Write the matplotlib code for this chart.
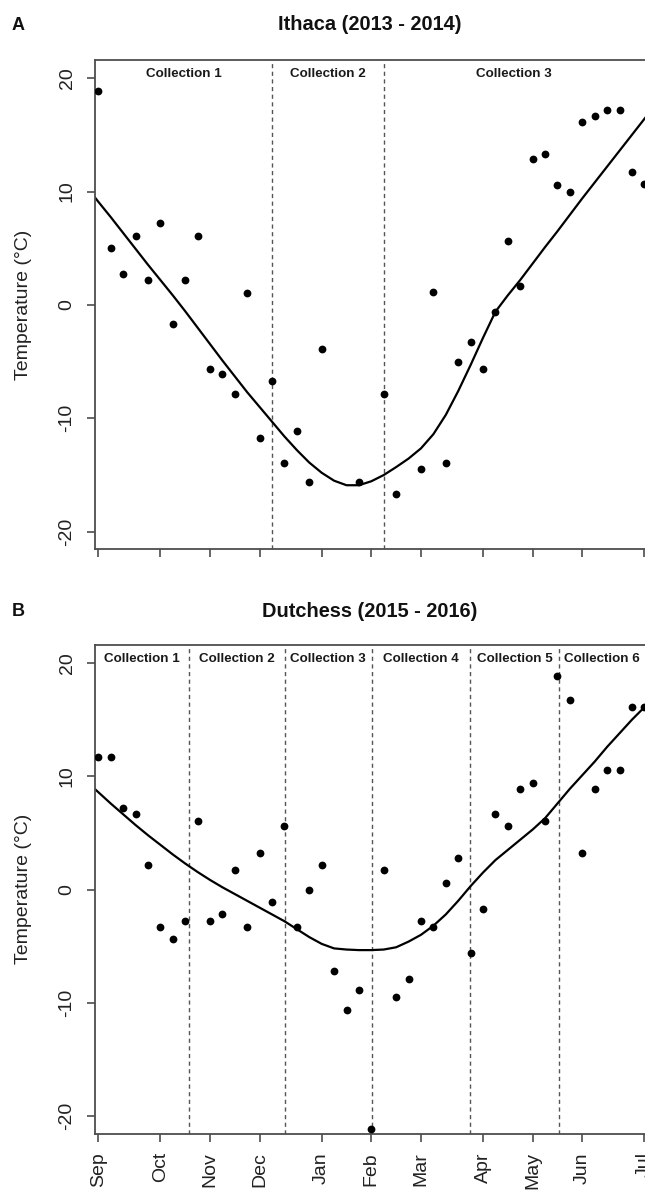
import numpy as np
import matplotlib
matplotlib.use("Agg")
import matplotlib.pyplot as plt

plt.rcParams['font.family'] = ['Liberation Sans', 'DejaVu Sans']
plt.rcParams['axes.unicode_minus'] = False

# ---------------- data ----------------
weeks = np.arange(45)
month_ticks = [0, 5, 9, 13, 18, 22, 26, 31, 35, 39, 44]
month_labels = ['Sep', 'Oct', 'Nov', 'Dec', 'Jan', 'Feb', 'Mar', 'Apr', 'May', 'Jun', 'Jul']

ithaca_temp = [18.9, 5.0, 2.74, 6.09, 2.2, 7.2, -1.7, 2.2, 6.1, -5.65,
               -6.1, -7.85, 1.09, -11.7, -6.7, -13.9, -11.1, -15.6, -3.9, np.nan,
               np.nan, -15.6, np.nan, -7.85, -16.7, np.nan, -14.5, 1.1, -13.9, -5.06,
               -3.3, -5.65, -0.6, 5.6, 1.68, 12.86, 13.3, 10.6, 10.0, 16.1,
               16.7, 17.2, 17.2, 11.7, 10.65]

dutchess_temp = [11.7, 11.7, 7.2, 6.7, 2.2, -3.3, -4.4, -2.8, 6.06, -2.8,
                 -2.2, 1.7, -3.3, 3.26, -1.1, 5.6, -3.3, 0.0, 2.2, -7.2,
                 -10.65, -8.9, -21.15, 1.7, -9.5, -7.86, -2.8, -3.3, 0.6, 2.8,
                 -5.65, -1.7, 6.7, 5.6, 8.9, 9.4, 6.06, 18.9, 16.7, 3.26,
                 8.9, 10.6, 10.6, 16.1, 16.1]

curve_weeks = np.arange(-1, 46)
ithaca_smooth = [10.5, 9.1, 7.75, 6.35, 4.95, 3.55, 2.2, 0.85, -0.55, -2.0,
                 -3.45, -4.9, -6.3, -7.7, -9.0, -10.3, -11.6, -12.8, -13.9, -14.8,
                 -15.5, -15.9, -15.9, -15.55, -15.0, -14.3, -13.55, -12.65, -11.4, -9.7,
                 -7.6, -5.3, -2.9, -0.6, 0.85, 2.2, 3.65, 5.1, 6.5, 7.95,
                 9.4, 10.8, 12.2, 13.6, 15.0, 16.4, 17.8]
dutchess_smooth = [9.6, 8.6, 7.6, 6.65, 5.7, 4.8, 3.95, 3.1, 2.3, 1.55,
                   0.85, 0.2, -0.4, -1.0, -1.6, -2.2, -2.8, -3.5, -4.2, -4.8,
                   -5.2, -5.3, -5.35, -5.35, -5.3, -5.1, -4.6, -4.0, -3.2, -2.2,
                   -1.0, 0.3, 1.5, 2.6, 3.5, 4.4, 5.3, 6.3, 7.6, 8.9,
                   10.1, 11.3, 12.6, 13.8, 15.0, 16.1, 17.3]

ithaca_breaks = [14, 23]
dutchess_breaks = [7.33, 15.04, 22.03, 29.95, 37.15]

ithaca_collections = ['Collection 1', 'Collection 2', 'Collection 3']
dutchess_collections = ['Collection %d' % i for i in range(1, 7)]

# ---------------- layout ----------------
W, H = 645, 1191
fig = plt.figure(figsize=(W / 100, H / 100), dpi=100)

x_left_px, x_right_px = 95, 646
wk0_px, px_per_wk = 98.3, 12.41
xlim = ((x_left_px - wk0_px) / px_per_wk, (x_right_px - wk0_px) / px_per_wk)
plot_end = 44.0
ylim = (-21.55, 21.6)

axis_col = '#4d4d4d'


def make_axes(top_px, bottom_px):
    return fig.add_axes([x_left_px / W, 1 - bottom_px / H,
                         (x_right_px - x_left_px) / W, (bottom_px - top_px) / H])


def style(ax, temps, smooth, breaks, labels, show_months):
    ax.set_xlim(*xlim)
    ax.set_ylim(*ylim)
    for b in breaks:
        ax.axvline(b, color='#555555', lw=1.0, linestyle=(0, (3, 2.5)), zorder=1)
    ax.plot(curve_weeks, smooth, color='black', lw=1.6, zorder=2)
    ax.plot(weeks, temps, 'o', color='black', markersize=5.6, zorder=3,
            markeredgewidth=0)
    bounds = [xlim[0]] + list(breaks) + [plot_end]
    for i, lab in enumerate(labels):
        ax.text((bounds[i] + bounds[i + 1]) / 2, 20.4, lab, ha='center', va='center',
                fontsize=9.6, fontweight='bold', color='#1a1a1a')
    for s in ax.spines.values():
        s.set_color(axis_col)
        s.set_linewidth(1.3)
    ax.set_yticks([-20, -10, 0, 10, 20])
    ax.set_xticks(month_ticks)
    ax.tick_params(axis='both', colors=axis_col, length=5.5, width=1.2,
                   labelcolor='#222222', labelsize=14)
    ax.tick_params(axis='y', pad=8.5, labelrotation=90)
    for t in ax.get_yticklabels():
        t.set_va('center')
    if show_months:
        ax.set_xticklabels(month_labels, rotation=90)
        ax.tick_params(axis='x', pad=8)
        for t in ax.get_xticklabels():
            t.set_va('top')
    else:
        ax.set_xticklabels([])


axA = make_axes(60, 549.3)
style(axA, ithaca_temp, ithaca_smooth, ithaca_breaks, ithaca_collections, False)
axB = make_axes(645, 1133.5)
style(axB, dutchess_temp, dutchess_smooth, dutchess_breaks, dutchess_collections, True)

# titles, panel letters, y labels
for (ty, title, letter, top, bot) in [(25, 'Ithaca (2013 - 2014)', 'A', 60, 549.3),
                                       (611.7, 'Dutchess (2015 - 2016)', 'B', 645, 1133.5)]:
    fig.text(369.5 / W, 1 - ty / H, title, ha='center', va='center',
             fontsize=14.4, fontweight='bold', color='#111111')
    fig.text(18.4 / W, 1 - ty / H, letter, ha='center', va='center',
             fontsize=13, fontweight='bold', color='#111111')
    fig.text(24 / W, 1 - ((top + bot) / 2) / H, 'Temperature (°C)', rotation=90,
             ha='center', va='center', fontsize=14, color='#222222')

fig.savefig('out.png', dpi=100)
